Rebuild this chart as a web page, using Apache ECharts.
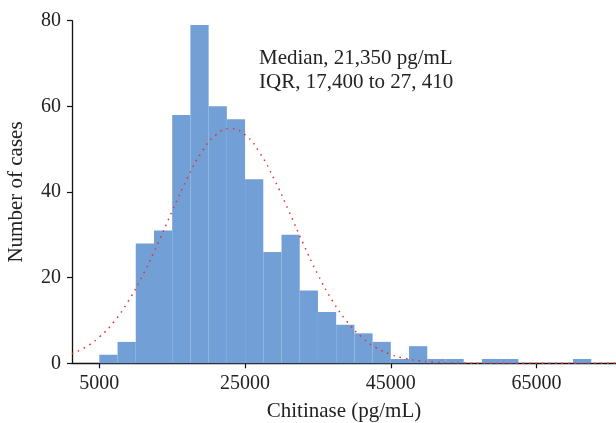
<!DOCTYPE html>
<html>
<head>
<meta charset="utf-8">
<script src="https://cdn.jsdelivr.net/npm/echarts@6/dist/echarts.min.js"></script>
<style>html,body{margin:0;padding:0;background:#fff;}#c{width:616px;height:423px;}</style>
</head>
<body>
<div id="c"></div>
<script>
// Histogram bins (pg/mL), width 2500
var binStarts = [5000, 7500, 10000, 12500, 15000, 17500, 20000, 22500, 25000, 27500, 30000, 32500, 35000, 37500, 40000, 42500, 45000, 47500, 50000, 52500, 55000, 57500, 60000, 62500, 65000, 67500, 70000];
var binWidth = 2500;
var counts = [2, 5, 28, 31, 58, 79, 60, 57, 43, 26, 30, 17, 12, 9, 7, 5, 1, 4, 1, 1, 0, 1, 1, 0, 0, 0, 1];
// Fitted normal curve
var curveX = [1250, 3000, 5000, 7000, 9000, 11000, 13000, 15000, 17000, 19000, 21000, 23000, 25000, 27000, 29000, 31000, 33000, 35000, 37000, 39000, 41000, 43000, 45000, 47000, 49000, 51000, 53000, 55000, 58000, 62000, 66000, 70000, 75900];
var curveY = [2.24, 3.67, 6.13, 9.71, 14.57, 20.70, 27.87, 35.56, 42.96, 49.19, 53.34, 54.8, 53.34, 49.19, 42.96, 35.56, 27.87, 20.70, 14.57, 9.71, 6.13, 3.67, 2.08, 1.12, 0.57, 0.27, 0.12, 0.05, 0.01, 0, 0, 0, 0];
var xTicks = [5000, 25000, 45000, 65000];
var yTicks = [0, 20, 40, 60, 80];
var annotation = ['Median, 21,350 pg/mL', 'IQR, 17,400 to 27, 410'];
var xName = 'Chitinase (pg/mL)';
var yName = 'Number of cases';

var FONT = '"Liberation Serif", "DejaVu Serif", serif';
var histData = binStarts.map(function (s, i) { return [s, s + binWidth, counts[i]]; });
var lineData = curveX.map(function (x, i) { return [x, curveY[i]]; });

var chart = echarts.init(document.getElementById('c'), null, { renderer: 'canvas' });
chart.setOption({
  animation: false,
  backgroundColor: '#fff',
  grid: { left: 72, right: 0, top: 20.7, bottom: 59.7, containLabel: false, outerBoundsMode: 'none' },
  xAxis: {
    type: 'value', min: 1250, max: 75900,
    name: xName, nameLocation: 'middle', nameGap: 38,
    nameTextStyle: { fontFamily: FONT, fontSize: 21, color: '#222' },
    axisLine: { show: true, onZero: false, lineStyle: { color: '#111', width: 1.3 } },
    axisTick: { show: true, length: 5, customValues: xTicks, lineStyle: { color: '#111', width: 1.2 } },
    axisLabel: { customValues: xTicks, fontFamily: FONT, fontSize: 20, color: '#222', margin: 10,
      formatter: function (v) { return String(v); } },
    splitLine: { show: false }
  },
  yAxis: {
    type: 'value', min: 0, max: 80, interval: 20,
    name: yName, nameLocation: 'middle', nameGap: 45,
    nameTextStyle: { fontFamily: FONT, fontSize: 21, color: '#222' },
    axisLine: { show: true, lineStyle: { color: '#111', width: 1.3 } },
    axisTick: { show: true, length: 5, lineStyle: { color: '#111', width: 1.2 } },
    axisLabel: { fontFamily: FONT, fontSize: 20, color: '#222', margin: 11,
      formatter: function (v) { return String(v); } },
    splitLine: { show: false }
  },
  graphic: [{
    type: 'text', left: 259, top: 46, z: 100,
    style: { text: annotation.join('\n'), font: '21px ' + FONT, fill: '#222', lineHeight: 24.5 }
  }],
  series: [{
    type: 'custom',
    data: histData,
    encode: { x: [0, 1], y: 2 },
    renderItem: function (params, api) {
      var p0 = api.coord([api.value(0), api.value(2)]);
      var p1 = api.coord([api.value(1), 0]);
      return {
        type: 'rect',
        shape: { x: p0[0], y: p0[1], width: p1[0] - p0[0], height: p1[1] - p0[1] },
        style: { fill: '#729fd5' }
      };
    },
    z: 1
  }, {
    type: 'line',
    data: lineData,
    smooth: true,
    symbol: 'none',
    lineStyle: { color: '#e8302c', width: 1.5, type: [1.5, 5] },
    z: 5
  }]
});
</script>
</body>
</html>
